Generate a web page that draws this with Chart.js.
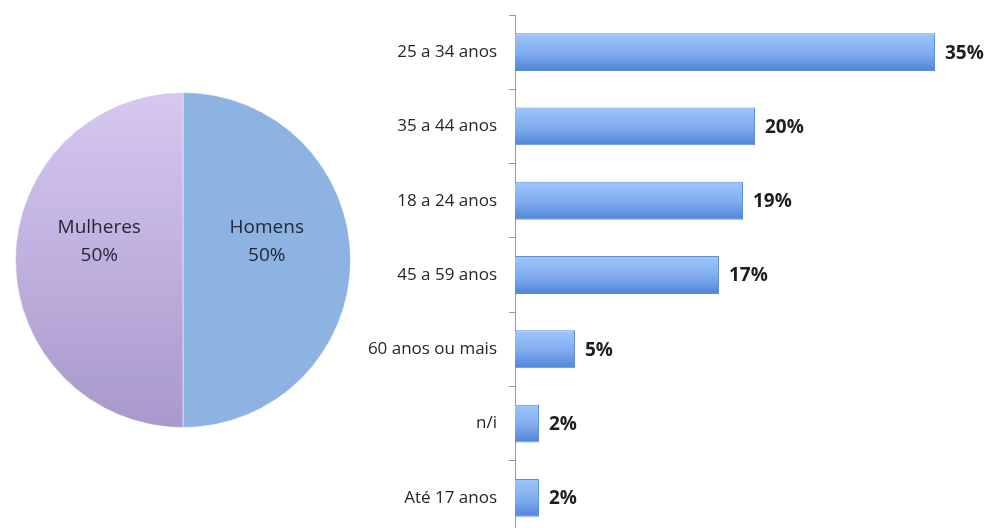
<!DOCTYPE html>
<html>
<head>
<meta charset="utf-8">
<script src="https://cdn.jsdelivr.net/npm/chart.js@4/dist/chart.umd.min.js"></script>
<style>
  html, body { margin: 0; padding: 0; background: #ffffff; overflow: hidden; }
  #wrap { position: relative; width: 991px; height: 528px; overflow: hidden; }
  #pieBox { position: absolute; left: 13px; top: 90px; width: 340px; height: 340px; }
  #barBox { position: absolute; left: 350px; top: 0px; width: 641px; height: 541px; }
</style>
</head>
<body>
<div id="wrap">
  <div id="pieBox"><canvas id="pie"></canvas></div>
  <div id="barBox"><canvas id="bar"></canvas></div>
</div>
<script>
// Gender split
const genderLabels = ['Homens', 'Mulheres'];
const genderValues = [50, 50];

// Age groups, share in percent
const ageLabels = ['25 a 34 anos', '35 a 44 anos', '18 a 24 anos', '45 a 59 anos', '60 anos ou mais', 'n/i', 'Até 17 anos'];
const ageValues = [35, 20, 19, 17, 5, 2, 2];

const FONT = '"Open Sans", Lato, sans-serif';

// ---- Pie: gender ----
const pieLabelPlugin = {
  id: 'pieLabels',
  afterDatasetsDraw(chart) {
    const ctx = chart.ctx;
    const meta = chart.getDatasetMeta(0);
    ctx.save();
    ctx.fillStyle = '#262634';
    ctx.font = '19px ' + FONT;
    ctx.textAlign = 'center';
    ctx.textBaseline = 'middle';
    meta.data.forEach((arc, i) => {
      const p = arc.tooltipPosition();
      const cy = p.y - 18;
      ctx.fillText(genderLabels[i], p.x, cy - 14);
      ctx.fillText(genderValues[i] + '%', p.x, cy + 14);
    });
    ctx.restore();
  }
};

function sliceFill(context) {
  if (context.dataIndex === 0) return '#8cb3e2';
  const area = context.chart.chartArea;
  if (!area) return '#c7b8e6';
  const g = context.chart.ctx.createLinearGradient(0, area.top, 0, area.bottom);
  g.addColorStop(0, '#d6c8f0');
  g.addColorStop(1, '#a898cc');
  return g;
}

new Chart(document.getElementById('pie'), {
  type: 'pie',
  data: {
    labels: genderLabels,
    datasets: [{
      data: genderValues,
      backgroundColor: sliceFill,
      borderColor: 'rgba(255,255,255,0.5)',
      borderWidth: 1
    }]
  },
  options: {
    responsive: true,
    maintainAspectRatio: false,
    animation: false,
    layout: { padding: 2 },
    plugins: { legend: { display: false }, tooltip: { enabled: false } }
  },
  plugins: [pieLabelPlugin]
});

// ---- Horizontal bars: age groups ----
function barFill(context) {
  const chart = context.chart;
  const y = chart.scales && chart.scales.y;
  if (!y || !chart.chartArea) return '#7aa8ea';
  const c = y.getPixelForValue(context.dataIndex);
  const half = 19;
  const g = chart.ctx.createLinearGradient(0, c - half, 0, c + half);
  g.addColorStop(0, '#9fc6fb');
  g.addColorStop(0.55, '#7fabee');
  g.addColorStop(1, '#4e85d6');
  return g;
}

const barValuePlugin = {
  id: 'barValues',
  afterDatasetsDraw(chart) {
    const ctx = chart.ctx;
    const meta = chart.getDatasetMeta(0);
    ctx.save();
    ctx.fillStyle = '#1e1e1e';
    ctx.font = 'bold 19px ' + FONT;
    ctx.textAlign = 'left';
    ctx.textBaseline = 'middle';
    meta.data.forEach((bar, i) => {
      ctx.fillText(ageValues[i] + '%', bar.x + 10, bar.y + 1);
    });
    ctx.restore();
  }
};

new Chart(document.getElementById('bar'), {
  type: 'bar',
  data: {
    labels: ageLabels,
    datasets: [{
      data: ageValues,
      backgroundColor: barFill,
      borderColor: '#5d8fd8',
      borderWidth: 1,
      borderSkipped: 'start',
      barPercentage: 0.85,
      categoryPercentage: 0.6
    }]
  },
  options: {
    indexAxis: 'y',
    responsive: true,
    maintainAspectRatio: false,
    animation: false,
    layout: { padding: { top: 15, right: 56, bottom: 6, left: 0 } },
    scales: {
      x: { display: false, min: 0, max: 35 },
      y: {
        afterFit(scale) {
          scale.width = 165;
          scale.paddingTop = 0;
          scale.paddingBottom = 0;
        },
        border: { display: true, color: '#9a9a9a', width: 1 },
        grid: { offset: true, drawOnChartArea: false, drawTicks: true, tickLength: 6, color: '#9a9a9a' },
        ticks: { color: '#262626', font: { family: FONT, size: 17 }, padding: 12 }
      }
    },
    plugins: { legend: { display: false }, tooltip: { enabled: false } }
  },
  plugins: [barValuePlugin]
});
</script>
</body>
</html>
